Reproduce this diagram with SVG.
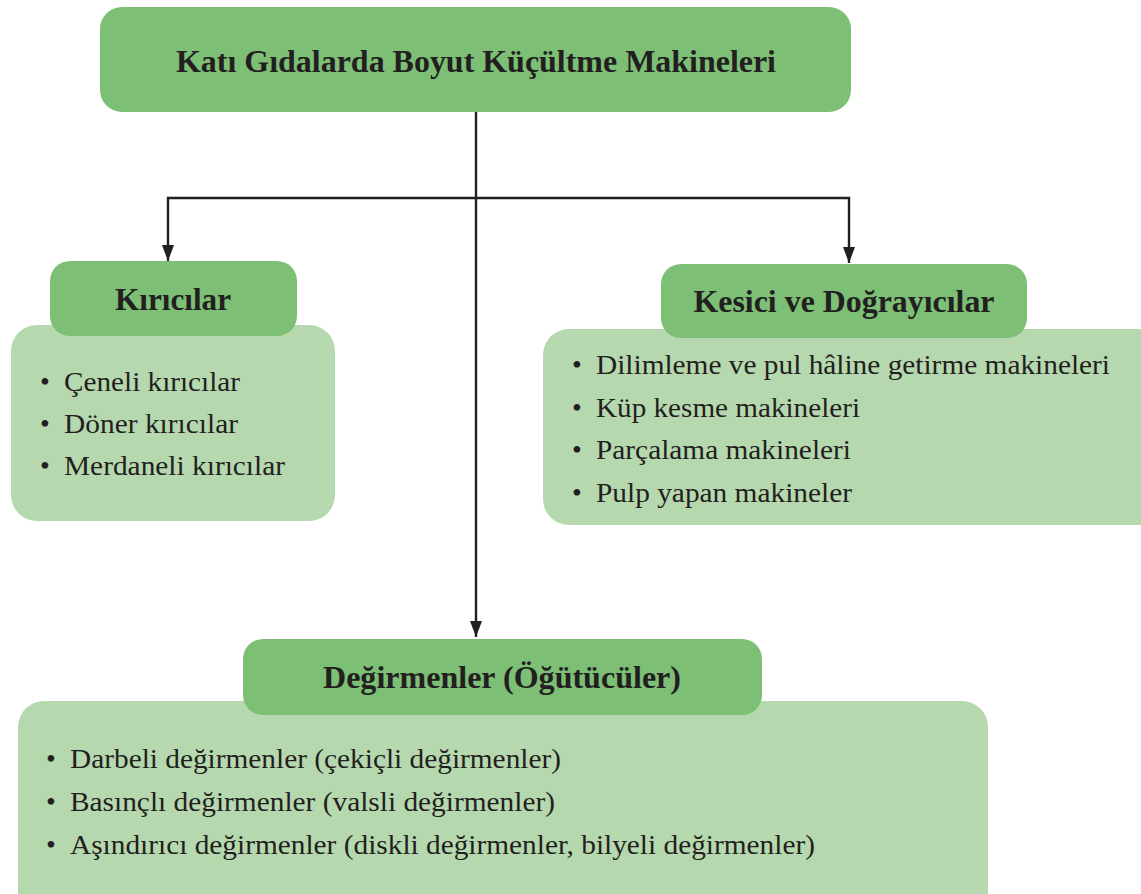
<svg xmlns="http://www.w3.org/2000/svg" width="1141" height="894" viewBox="0 0 1141 894">
<style>
.hd{fill:#7cbf75}
.pn{fill:#b6d8ae}
text{font-family:'Liberation Serif','Times New Roman',Times,serif;fill:#231f20}
.b{font-weight:bold;font-size:32px;text-anchor:middle}
.i{font-size:28px}
.c{fill:none;stroke:#231f20;stroke-width:2.4}
</style>
<defs>
<marker id="ar" viewBox="0 0 16 12" refX="16" refY="6" markerWidth="16" markerHeight="12" markerUnits="userSpaceOnUse" orient="auto">
<path d="M0,0 L16,6 L0,12 Z" fill="#231f20"/>
</marker>
</defs>
<rect width="1141" height="894" fill="#fff"/>
<g id="connectors">
<path class="c" d="M476,112 V637" marker-end="url(#ar)"/>
<path class="c" d="M476,198 H168 V261" marker-end="url(#ar)"/>
<path class="c" d="M476,198 H849 V263" marker-end="url(#ar)"/>
</g>
<g id="root">
<rect class="hd" x="100" y="7" width="751" height="105" rx="22"/>
<text class="b" x="476" y="72" textLength="600" lengthAdjust="spacingAndGlyphs">Katı Gıdalarda Boyut Küçültme Makineleri</text>
</g>
<g id="kiricilar">
<rect class="pn" x="11" y="325" width="324" height="196" rx="26"/>
<rect class="hd" x="50" y="261" width="247" height="75" rx="20"/>
<text class="b" x="173" y="310" textLength="116" lengthAdjust="spacingAndGlyphs">Kırıcılar</text>
<text class="i" x="40" y="391">•</text><text class="i" x="64" y="391" textLength="176" lengthAdjust="spacingAndGlyphs">Çeneli kırıcılar</text>
<text class="i" x="40" y="433">•</text><text class="i" x="64" y="433" textLength="174" lengthAdjust="spacingAndGlyphs">Döner kırıcılar</text>
<text class="i" x="40" y="475">•</text><text class="i" x="64" y="475" textLength="221" lengthAdjust="spacingAndGlyphs">Merdaneli kırıcılar</text>
</g>
<g id="kesici">
<rect class="pn" x="543" y="329" width="620" height="196" rx="26"/>
<rect class="hd" x="661" y="264" width="366" height="74" rx="20"/>
<text class="b" x="844" y="312" textLength="301" lengthAdjust="spacingAndGlyphs">Kesici ve Doğrayıcılar</text>
<text class="i" x="572" y="374">•</text><text class="i" x="596" y="374" textLength="514" lengthAdjust="spacingAndGlyphs">Dilimleme ve pul hâline getirme makineleri</text>
<text class="i" x="572" y="417">•</text><text class="i" x="596" y="417" textLength="264" lengthAdjust="spacingAndGlyphs">Küp kesme makineleri</text>
<text class="i" x="572" y="459">•</text><text class="i" x="596" y="459" textLength="255" lengthAdjust="spacingAndGlyphs">Parçalama makineleri</text>
<text class="i" x="572" y="502">•</text><text class="i" x="596" y="502" textLength="256" lengthAdjust="spacingAndGlyphs">Pulp yapan makineler</text>
</g>
<g id="degirmenler">
<rect class="pn" x="18" y="701" width="970" height="230" rx="26"/>
<rect class="hd" x="243" y="639" width="519" height="76" rx="20"/>
<text class="b" x="502" y="688" textLength="358" lengthAdjust="spacingAndGlyphs">Değirmenler (Öğütücüler)</text>
<text class="i" x="46" y="768">•</text><text class="i" x="70" y="768" textLength="491" lengthAdjust="spacingAndGlyphs">Darbeli değirmenler (çekiçli değirmenler)</text>
<text class="i" x="46" y="811">•</text><text class="i" x="70" y="811" textLength="485" lengthAdjust="spacingAndGlyphs">Basınçlı değirmenler (valsli değirmenler)</text>
<text class="i" x="46" y="854">•</text><text class="i" x="70" y="854" textLength="745" lengthAdjust="spacingAndGlyphs">Aşındırıcı değirmenler (diskli değirmenler, bilyeli değirmenler)</text>
</g>
</svg>
